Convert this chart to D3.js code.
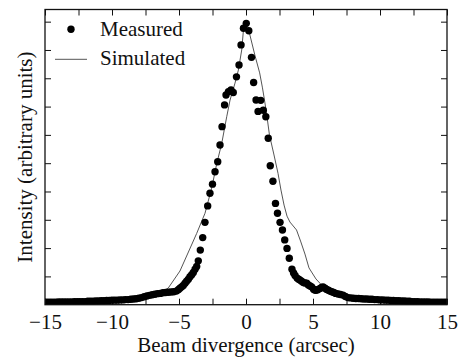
<!DOCTYPE html>
<html>
<head>
<meta charset="utf-8">
<script src="https://cdn.jsdelivr.net/npm/d3@7"></script>
<style>
  html, body { margin: 0; padding: 0; background: #fff; }
  svg { display: block; }
</style>
</head>
<body>
<div id="chart"></div>
<script>
// measured points [divergence (arcsec), intensity]
const measured = [
  [-15.0, .009], [-14.8, .009], [-14.6, .009], [-14.4, .009], [-14.2, .009], [-14.0, .010],
  [-13.8, .010], [-13.6, .010], [-13.4, .010], [-13.2, .010], [-13.0, .010], [-12.8, .011],
  [-12.6, .011], [-12.4, .011], [-12.2, .011], [-12.0, .011], [-11.8, .012], [-11.6, .012],
  [-11.4, .012], [-11.2, .013], [-11.0, .013], [-10.8, .014], [-10.6, .014], [-10.4, .015],
  [-10.2, .015], [-10.0, .016], [-9.8, .016], [-9.6, .016], [-9.4, .017], [-9.2, .017],
  [-9.0, .018], [-8.8, .018], [-8.6, .019], [-8.4, .020], [-8.2, .021], [-8.0, .023],
  [-7.8, .025], [-7.6, .028], [-7.4, .031], [-7.2, .033], [-7.0, .035], [-6.8, .037],
  [-6.6, .039], [-6.4, .040], [-6.2, .042], [-6.0, .043], [-5.8, .044], [-5.6, .045],
  [-5.4, .046], [-5.2, .048], [-5.05, .053], [-4.93, .058], [-4.8, .063], [-4.68, .068],
  [-4.55, .076], [-4.43, .083], [-4.3, .090], [-4.18, .099], [-4.05, .106], [-3.93, .114],
  [-3.8, .125], [-3.68, .135], [-3.56, .155], [-3.41, .193], [-3.23, .237], [-3.06, .291],
  [-2.86, .349], [-2.69, .394], [-2.50, .426], [-2.31, .470], [-2.11, .505], [-1.94, .564],
  [-1.79, .629], [-1.60, .706], [-1.49, .741], [-1.31, .753], [-1.12, .759], [-0.95, .750],
  [-0.71, .805], [-0.52, .847], [-0.37, .918], [-0.19, .977], [0.02, .994], [0.21, .968],
  [0.41, .874], [0.57, .785], [0.75, .723], [0.90, .683], [1.10, .722], [1.29, .687],
  [1.48, .664], [1.66, .588], [1.81, .491], [2.01, .436], [2.20, .358], [2.35, .323],
  [2.54, .291], [2.72, .264], [2.89, .229], [3.06, .199], [3.23, .164], [3.43, .125],
  [3.55, .112], [3.66, .103], [3.81, .094], [3.93, .090], [4.03, .087], [4.15, .083],
  [4.28, .078], [4.40, .077], [4.53, .076], [4.65, .070], [4.78, .066], [4.90, .063],
  [5.04, .055], [5.13, .052], [5.22, .051], [5.35, .053], [5.52, .057], [5.64, .061],
  [5.75, .063], [5.90, .058], [6.02, .054], [6.15, .051], [6.27, .048], [6.40, .046],
  [6.55, .043], [6.70, .040], [6.87, .038], [7.05, .036], [7.24, .034], [7.42, .029],
  [7.61, .025], [7.8, .024], [8.0, .023], [8.2, .022], [8.4, .022], [8.6, .021],
  [8.8, .020], [9.0, .020], [9.2, .019], [9.4, .019], [9.6, .018], [9.8, .018],
  [10.0, .017], [10.2, .017], [10.4, .016], [10.6, .016], [10.8, .015], [11.0, .015],
  [11.2, .014], [11.4, .014], [11.6, .013], [11.8, .013], [12.0, .012], [12.2, .012],
  [12.4, .011], [12.6, .011], [12.8, .011], [13.0, .010], [13.2, .010], [13.4, .010],
  [13.6, .010], [13.8, .009], [14.0, .009], [14.2, .009], [14.4, .009], [14.6, .009],
  [14.8, .009], [15.0, .009]
];

// simulated curve [divergence (arcsec), intensity]
const simulated = [
  [-15, .008], [-12, .010], [-10, .012], [-8, .020], [-7, .035], [-6.2, .048],
  [-5.80, .059], [-4.93, .119], [-4.43, .172], [-3.68, .252], [-3.06, .323], [-2.56, .412],
  [-2.19, .497], [-1.81, .570], [-1.44, .664], [-1.19, .723], [-0.82, .783], [-0.57, .829],
  [-0.32, .900], [-0.19, .971], [0.0, 1.0], [0.26, .959], [0.66, .882], [1.02, .819],
  [1.23, .766], [1.38, .723], [1.53, .677], [1.75, .600], [2.09, .529], [2.39, .464],
  [2.61, .405], [2.84, .352], [3.06, .313], [3.28, .292], [3.77, .264], [4.07, .225],
  [4.40, .179], [4.70, .130], [5.22, .091], [5.75, .064], [6.2, .052], [7, .035],
  [8, .022], [10, .015], [12, .011], [15, .008]
];

const xTicks = [-15, -12.5, -10, -7.5, -5, -2.5, 0, 2.5, 5, 7.5, 10, 12.5, 15];
const xLabels = [-15, -10, -5, 0, 5, 10, 15];
const yTicks = [0.1, 0.2, 0.3, 0.4, 0.5, 0.6, 0.7, 0.8, 0.9, 1.0];

const FONT = 'Liberation Serif';
const W = 458, H = 358;
const margin = { top: 9.5, right: 11, bottom: 53.3, left: 45 };
const width = W - margin.left - margin.right;
const height = H - margin.top - margin.bottom;

const svg = d3.select('#chart').append('svg')
  .attr('width', W)
  .attr('height', H)
  .style('font-family', FONT);

const g = svg.append('g')
  .attr('transform', `translate(${margin.left},${margin.top})`);

const x = d3.scaleLinear().domain([-15, 15]).range([0, width]);
const y = d3.scaleLinear().domain([0, 1.043]).range([height, 0]);

g.append('clipPath').attr('id', 'plot-clip')
  .append('rect').attr('width', width).attr('height', height);

const fmt = d => xLabels.includes(d) ? d3.format('d')(d) : '';

// axes, ticks pointing inwards
const styleAxis = sel => {
  sel.attr('font-family', null).attr('font-size', null);
  sel.select('.domain').remove();
  sel.selectAll('line').attr('stroke', '#111').attr('stroke-width', 1);
  sel.selectAll('text')
    .style('font-family', FONT)
    .style('font-size', '21px')
    .attr('fill', '#111');
};

g.append('g')
  .attr('transform', `translate(0,${height})`)
  .call(d3.axisBottom(x).tickValues(xTicks).tickFormat(fmt).tickSize(-6).tickPadding(9))
  .call(styleAxis);

g.append('g')
  .call(d3.axisTop(x).tickValues(xTicks).tickFormat('').tickSize(-6))
  .call(styleAxis);

g.append('g')
  .call(d3.axisLeft(y).tickValues(yTicks).tickFormat('').tickSize(-6))
  .call(styleAxis);

g.append('g')
  .attr('transform', `translate(${width},0)`)
  .call(d3.axisRight(y).tickValues(yTicks).tickFormat('').tickSize(-6))
  .call(styleAxis);

const plot = g.append('g').attr('clip-path', 'url(#plot-clip)');

// simulated line
plot.append('path')
  .datum(simulated)
  .attr('fill', 'none')
  .attr('stroke', '#555')
  .attr('stroke-width', 1)
  .attr('d', d3.line().x(d => x(d[0])).y(d => y(d[1])));

// measured dots
plot.selectAll('circle.pt')
  .data(measured)
  .enter()
  .append('circle')
  .attr('class', 'pt')
  .attr('cx', d => x(d[0]))
  .attr('cy', d => y(d[1]))
  .attr('r', 3.7)
  .attr('fill', '#000');

// frame
g.append('rect')
  .attr('width', width)
  .attr('height', height)
  .attr('fill', 'none')
  .attr('stroke', '#111')
  .attr('stroke-width', 1.3);

// legend
const legend = g.append('g').style('font-size', '21px').attr('fill', '#111');
legend.append('circle').attr('cx', 26).attr('cy', 19.8).attr('r', 3.7).attr('fill', '#000');
legend.append('text').attr('x', 55).attr('y', 26.5).style('font-family', FONT).text('Measured');
legend.append('line').attr('x1', 10).attr('x2', 42).attr('y1', 49.8).attr('y2', 49.8)
  .attr('stroke', '#555').attr('stroke-width', 1);
legend.append('text').attr('x', 55).attr('y', 55.5).style('font-family', FONT).text('Simulated');

// axis titles
svg.append('text')
  .attr('x', margin.left + width / 2)
  .attr('y', 352)
  .attr('text-anchor', 'middle')
  .style('font-family', FONT)
  .style('font-size', '21px')
  .attr('fill', '#111')
  .text('Beam divergence (arcsec)');

svg.append('text')
  .attr('transform', `translate(32,${margin.top + height / 2}) rotate(-90)`)
  .attr('text-anchor', 'middle')
  .style('font-family', FONT)
  .style('font-size', '21px')
  .attr('fill', '#111')
  .text('Intensity (arbitrary units)');
</script>
</body>
</html>
